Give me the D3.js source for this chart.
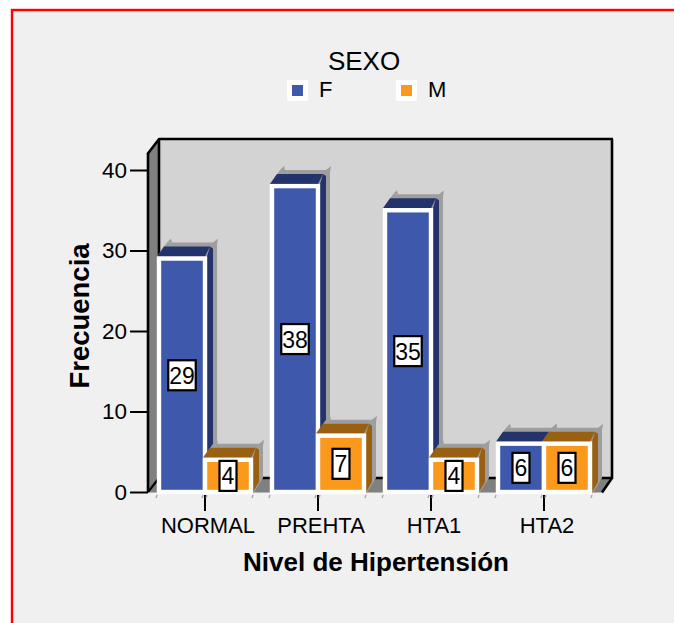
<!DOCTYPE html>
<html><head><meta charset="utf-8">
<script src="https://cdn.jsdelivr.net/npm/d3@7"></script>
<style>html,body{margin:0;padding:0;background:#fff;overflow:hidden}svg{display:block}text{font-family:"Liberation Sans",Arial,sans-serif;fill:#000}</style>
</head><body><svg id="c" width="674" height="623"></svg>
<script>
const categories = ["NORMAL","PREHTA","HTA1","HTA2"];
const seriesNames = ["F","M"];
const valuesF = [29,38,35,6];
const valuesM = [4,7,4,6];
const yTicks = [0,10,20,30,40];
const colors = {F:{front:"#3e58ac",dark:"#23336b"},M:{front:"#fb991c",dark:"#9a6012"}};
const svg = d3.select("#c");
svg.append("rect").attr("x",12).attr("y",10).attr("width",700).attr("height",660).attr("fill","#f0f0f0").attr("stroke","#f00").attr("stroke-width",2.4);

const y = d3.scaleLinear().domain([0,40]).range([492,170]);
const x0 = d3.scaleBand().domain(categories).range([159,590]).paddingInner(21/113).paddingOuter(0);
const x1 = d3.scaleBand().domain(seriesNames).range([0,x0.bandwidth()]);
const poly = (g,pts,fill)=>g.append("polygon").attr("points",pts.map(p=>p.join(",")).join(" ")).attr("fill",fill);
const line = (g,a,b,w,c="#000")=>g.append("line").attr("x1",a[0]).attr("y1",a[1]).attr("x2",b[0]).attr("y2",b[1]).attr("stroke",c).attr("stroke-width",w);

const walls = svg.append("g");
poly(walls,[[159,139],[612,139],[612,478],[159,478]],"#d3d3d3");
poly(walls,[[148,153],[159,139],[159,478],[148,492]],"#808080");
poly(walls,[[159,478],[612,478],[602,492.5],[148,492.5]],"#808080");
line(walls,[159,139],[613,139],2.6);
line(walls,[612,139],[612,479],2.6);
line(walls,[159,139],[159,478],2.6);
line(walls,[148,153],[148,492],2.6);
line(walls,[147.5,154],[159.5,138.5],2.6);
line(walls,[159,478],[612,478],2.6);
line(walls,[148,492],[159,478],2.2);
line(walls,[602,492.5],[612,478],2.6);

const yAxis = d3.axisLeft(y).tickValues(yTicks).tickSize(18).tickPadding(3);
const gy = svg.append("g").attr("transform","translate(148,0)").call(yAxis);
gy.select(".domain").remove();
gy.selectAll("line").attr("stroke","#000").attr("stroke-width",2);
gy.selectAll("text").attr("font-size",22.5).attr("font-family","Liberation Sans").attr("fill","#000");

const xAxis = d3.axisBottom(x0).tickSize(16).tickPadding(6);
const gx = svg.append("g").attr("transform","translate(0,495)").call(xAxis);
gx.select(".domain").remove();
gx.selectAll("line").attr("stroke","#000").attr("stroke-width",2);
gx.selectAll("text").attr("font-size",22).attr("font-family","Liberation Sans").attr("fill","#000").attr("dx",3);

const bars = svg.append("g");
const labels = svg.append("g");
const series = {F:valuesF,M:valuesM};
categories.forEach((cat,i)=>{
  seriesNames.forEach(s=>{
    const v = series[s][i];
    const a = x0(cat)+x1(s), b = a+x1.bandwidth(), t = y(v), base = y(0);
    const g = bars.append("g");
    poly(g,[[a-2,t-2],[a+8,t-16],[b+12,t-16],[b+12,base-14],[b+2,base+2]],"#9e9e9e");
    poly(g,[[a+8,t-16],[a+12,t-20],[a+13,t-16]],"#9e9e9e");
    poly(g,[[b+8,t-16],[b+13,t-20],[b+12,t-14]],"#9e9e9e");
    poly(g,[[a-2,t-2],[a+5,t-12],[b+5,t-12],[b,t-2]],colors[s].dark);
    poly(g,[[b+2,t-2],[b+5,t-12],[b+8,t-10],[b+8,base-10],[b+2,base]],colors[s].dark);
    g.append("rect").attr("x",a).attr("y",t).attr("width",b-a).attr("height",base-t)
      .attr("fill",colors[s].front).attr("stroke","#fff").attr("stroke-width",4.4);
    line(g,[a-2,base+3],[a-3,base+6],1.4,"#a8a8a8");
    line(g,[b+2,base+3],[b+1,base+6],1.4,"#a8a8a8");
    const cx = (a+b)/2, cy = y(v/2), w = String(v).length>1?27.5:17;
    labels.append("rect").attr("x",cx-w/2).attr("y",cy-15).attr("width",w).attr("height",30)
      .attr("fill","#fff").attr("stroke","#000").attr("stroke-width",2.2);
    labels.append("text").attr("x",cx).attr("y",cy+8.5).attr("text-anchor","middle").attr("font-size",23).text(v);
  });
});

svg.append("text").attr("x",364).attr("y",70).attr("text-anchor","middle").attr("font-size",26).text("SEXO");
const legendX = d3.scalePoint().domain(seriesNames).range([287,396]);
seriesNames.forEach(s=>{
  const lx = legendX(s);
  svg.append("rect").attr("x",lx).attr("y",80).attr("width",21).attr("height",21).attr("fill","#fff");
  svg.append("rect").attr("x",lx+5).attr("y",85).attr("width",11).attr("height",11).attr("fill",colors[s].front);
  svg.append("text").attr("x",lx+32).attr("y",97).attr("font-size",22).text(s);
});
svg.append("text").attr("x",376).attr("y",571).attr("text-anchor","middle").attr("font-size",26).attr("font-weight","bold").text("Nivel de Hipertensión");
svg.append("text").attr("transform","translate(88.5,316) rotate(-90)").attr("text-anchor","middle").attr("font-size",27.5).attr("font-weight","bold").text("Frecuencia");
</script></body></html>
